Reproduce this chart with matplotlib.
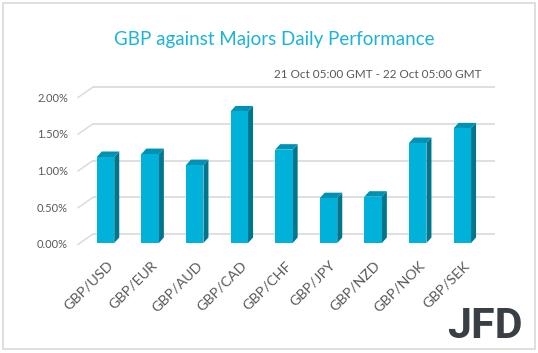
import numpy as np
import matplotlib.pyplot as plt
from matplotlib.patches import Polygon, Rectangle

pairs = ['GBP/USD', 'GBP/EUR', 'GBP/AUD', 'GBP/CAD', 'GBP/CHF',
         'GBP/JPY', 'GBP/NZD', 'GBP/NOK', 'GBP/SEK']
change = [1.17, 1.21, 1.06, 1.79, 1.27, 0.61, 0.63, 1.36, 1.56]
ticks = [0.0, 0.5, 1.0, 1.5, 2.0]
tick_labels = ['0.00%', '0.50%', '1.00%', '1.50%', '2.00%']

front = '#00B2DA'
side = '#00758E'
top = '#0092B2'
grid = '#D9D9D9'
txt = '#595959'

plt.rcParams['font.family'] = ['Lato', 'DejaVu Sans']

fig = plt.figure(figsize=(5.38, 3.53), dpi=100)
W, H = 538, 353

# pixel box of the plot area, data limits chosen so bars sit where they should
l, r, t, b = 70, 500, 70, 255
ax = fig.add_axes([l / W, 1 - b / H, (r - l) / W, (b - t) / H])
px_x = 44.6   # pixels per category
px_y = 73.5   # pixels per 1%
ax.set_xlim((l - 105.5) / px_x, (r - 105.5) / px_x)
ax.set_ylim((243 - b) / px_y, (243 - t) / px_y)
ax.axis('off')

# back wall gridlines + floor diagonals
wall_dy = 9 / px_y
x_front = (78 - 105.5) / px_x
x_back = (93 - 105.5) / px_x
x_end = (495 - 105.5) / px_x
for v in ticks:
    ax.plot([x_back, x_end], [v + wall_dy, v + wall_dy], color=grid, lw=1.2,
            solid_capstyle='butt', zorder=1)
    ax.plot([x_front, x_back], [v - 1.5 / px_y, v + wall_dy], color=grid, lw=1.0,
            zorder=1)

for v, lab in zip(ticks, tick_labels):
    ax.text((68 - 105.5) / px_x, v - 2 / px_y, lab, ha='right', va='center',
            fontsize=8, color=txt, clip_on=False)

# 3d-looking columns
hw = 8.75 / px_x
dx = 5 / px_x
dy = 5.5 / px_y
for i, v in enumerate(change):
    x0, x1 = i - hw, i + hw
    ax.add_patch(Polygon([(x1, 0), (x1 + dx, dy), (x1 + dx, v + dy), (x1, v)],
                         closed=True, facecolor=side, edgecolor='none', zorder=3))
    ax.add_patch(Polygon([(x0, v), (x1, v), (x1 + dx, v + dy), (x0 + dx, v + dy)],
                         closed=True, facecolor=top, edgecolor='none', zorder=3))
    ax.add_patch(Rectangle((x0, 0), x1 - x0, v, facecolor=front,
                           edgecolor='none', zorder=4))
    ax.text(i + 0.02, -16 / px_y, pairs[i], rotation=45, rotation_mode='anchor',
            ha='right', va='top', fontsize=10.3, color=txt, clip_on=False)

fig.text(274 / W, 1 - 40 / H, 'GBP against Majors Daily Performance',
         ha='center', va='center', fontsize=13.5, color='#1AB4DA')
fig.text(482 / W, 1 - 75 / H, '21 Oct 05:00 GMT - 22 Oct 05:00 GMT',
         ha='right', va='center', fontsize=8.5, color=txt)
fig.text(485 / W, 1 - 327 / H, 'JFD', ha='center', va='center',
         fontsize=31, fontweight='bold', color='#3A3F46', family='Roboto')

fig.add_artist(Rectangle((3 / W, 1 - 349 / H), 532 / W, 346 / H,
                         transform=fig.transFigure, fill=False,
                         edgecolor='#D9D9D9', lw=1.2))

fig.savefig('out.png', dpi=100)
